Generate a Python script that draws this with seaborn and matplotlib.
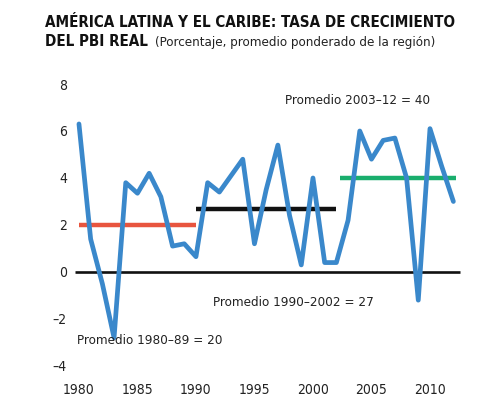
import numpy as np
import pandas as pd
import matplotlib
matplotlib.use("Agg")
import matplotlib.pyplot as plt
import seaborn as sns

# ---- data ----
years = list(range(1980, 2013))
growth = [6.3, 1.4, -0.5, -2.8, 3.8, 3.35, 4.2, 3.2, 1.1, 1.2,
          0.65, 3.8, 3.4, 4.1, 4.8, 1.2, 3.5, 5.4, 2.4, 0.3,
          4.0, 0.4, 0.4, 2.2, 6.0, 4.8, 5.6, 5.7, 4.0, -1.2,
          6.1, 4.5, 3.0]
avg_start = [1980, 1990, 2002.3]
avg_end = [1990, 2002, 2012.2]
avg_value = [2.0, 2.7, 4.0]
avg_labels = ["Promedio 1980–89 = 20", "Promedio 1990–2002 = 27", "Promedio 2003–12 = 40"]
xticks = [1980, 1985, 1990, 1995, 2000, 2005, 2010]
yticks = [-4, -2, 0, 2, 4, 6, 8]

df = pd.DataFrame({"year": years, "growth": growth})

sns.set_style("white")
plt.rcParams['font.family'] = ['DejaVu Sans']
plt.rcParams['font.stretch'] = 'condensed'

fig = plt.figure(figsize=(4.95, 4.08), dpi=100)
ax = fig.add_axes([0.1406, 0.0858, 0.8226, 0.7371])

blue = "#3a88cb"
avg_colors = ["#e8553f", "#111111", "#1aae6d"]

ax.hlines(0, 1979.7, 2012.6, color="#111111", lw=1.9, zorder=2)
for s, e, v, c in zip(avg_start, avg_end, avg_value, avg_colors):
    ax.hlines(v, s, e, color=c, lw=3.2, zorder=2)

sns.lineplot(data=df, x="year", y="growth", ax=ax, color=blue, lw=3.4, zorder=3)

ax.set_xlim(1979.2, 2014)
ax.set_ylim(-4.3, 8.5)
ax.set_xticks(xticks)
ax.set_yticks(yticks)
ax.set_xticklabels([str(t) for t in xticks])
ax.set_yticklabels([f"{t}".replace("-", "–") for t in yticks])
ax.tick_params(axis="both", length=0, labelsize=10, colors="#222222")
ax.tick_params(axis="x", pad=7)
ax.tick_params(axis="y", pad=2)
ax.set_xlabel("")
ax.set_ylabel("")
for sp in ax.spines.values():
    sp.set_visible(False)
ax.grid(False)

ax.text(1979.8, -2.9, avg_labels[0], fontsize=9.6, color="#222222", ha="left", va="center")
ax.text(1991.45, -1.28, avg_labels[1], fontsize=9.6, color="#222222", ha="left", va="center")
ax.text(2003.8, 7.3, avg_labels[2], fontsize=9.6, color="#222222", ha="center", va="center")

fig.text(45/495, 1-27/408, "AMÉRICA LATINA Y EL CARIBE: TASA DE CRECIMIENTO",
         fontsize=10.9, fontweight="bold", color="#111111", ha="left", va="baseline")
fig.text(45/495, 1-46/408, "DEL PBI REAL",
         fontsize=10.9, fontweight="bold", color="#111111", ha="left", va="baseline")
fig.text(155/495, 1-46/408, "(Porcentaje, promedio ponderado de la región)",
         fontsize=9.5, color="#222222", ha="left", va="baseline")

fig.savefig("out.png", dpi=100)
